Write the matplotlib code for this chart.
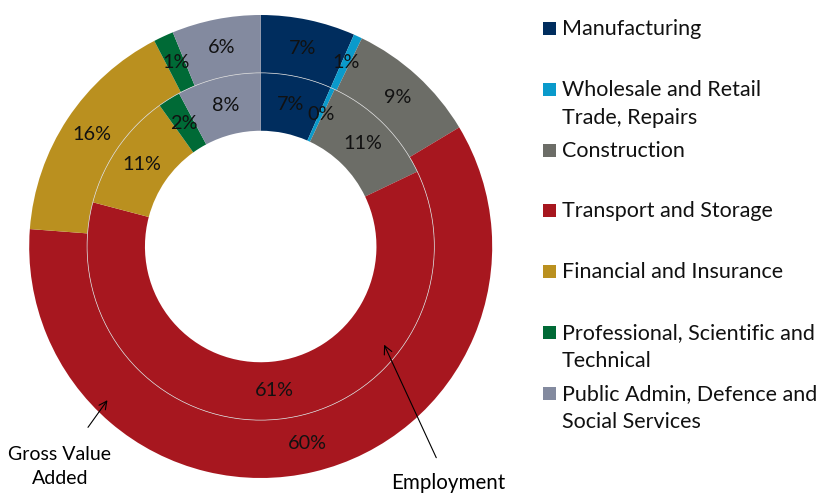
import numpy as np
import matplotlib.pyplot as plt
from matplotlib.patches import Rectangle, Circle

plt.rcParams['font.family'] = ['Lato', 'DejaVu Sans']

sectors = ["Manufacturing", "Wholesale and Retail\nTrade, Repairs", "Construction",
           "Transport and Storage", "Financial and Insurance",
           "Professional, Scientific and\nTechnical", "Public Admin, Defence and\nSocial Services"]
colors = ["#002D5E", "#0A9ACB", "#6C6D67", "#A7171F", "#BA901F", "#006A36", "#838A9F"]

# outer ring = Gross Value Added, inner ring = Employment (shares in %)
gva = [6.6, 0.6, 9.2, 59.8, 16.2, 1.4, 6.2]
employment = [6.6, 0.4, 10.9, 61.2, 11.0, 2.1, 7.8]

W, H = 819, 493
fig = plt.figure(figsize=(W / 100, H / 100), dpi=100)
cx, cy, R = 260.7, 246.5, 231.5
ax = fig.add_axes([(cx - R) / W, (H - cy - R) / H, 2 * R / W, 2 * R / H])

fmt = lambda p: f"{p:.0f}%"
ax.pie(gva, radius=1.0, colors=colors, startangle=90, counterclock=False,
       wedgeprops=dict(width=0.25, edgecolor='none'), autopct=fmt, pctdistance=0.875,
       textprops=dict(fontsize=14.3, color='#111111'))
ax.pie(employment, radius=0.75, colors=colors, startangle=90, counterclock=False,
       wedgeprops=dict(width=0.25, edgecolor='none'), autopct=fmt, pctdistance=0.835,
       textprops=dict(fontsize=14.3, color='#111111'))
ax.add_patch(Circle((0, 0), 0.75, fill=False, edgecolor='#d8d8d8', linewidth=0.5))
ax.set_xlim(-1, 1)
ax.set_ylim(-1, 1)
ax.set_aspect('equal')
ax.axis('off')

ax.annotate("Gross Value\nAdded", xy=(-0.655, -0.654), xytext=(-0.867, -0.95),
            ha='center', va='center', fontsize=14, linespacing=1.5,
            arrowprops=dict(arrowstyle='->', color='black', lw=0.8, shrinkA=14),
            annotation_clip=False)
ax.annotate("Employment", xy=(0.528, -0.413), xytext=(0.809, -1.022),
            ha='center', va='center', fontsize=14.8,
            arrowprops=dict(arrowstyle='->', color='black', lw=0.8, shrinkA=10),
            annotation_clip=False)

# legend, drawn by hand to keep Excel's even slots
for i, (name, col) in enumerate(zip(sectors, colors)):
    y = 28.5 + i * 60.8
    fig.add_artist(Rectangle((543 / W, 1 - (y + 6.5) / H), 13 / W, 13 / H,
                             transform=fig.transFigure, facecolor=col, edgecolor='none'))
    for k, line in enumerate(name.split("\n")):
        fig.text(562 / W, 1 - (y + 6.5 + 28 * k) / H, line, ha='left', va='baseline',
                 fontsize=15.5, color='#111111')

fig.savefig("out.png", dpi=100)
